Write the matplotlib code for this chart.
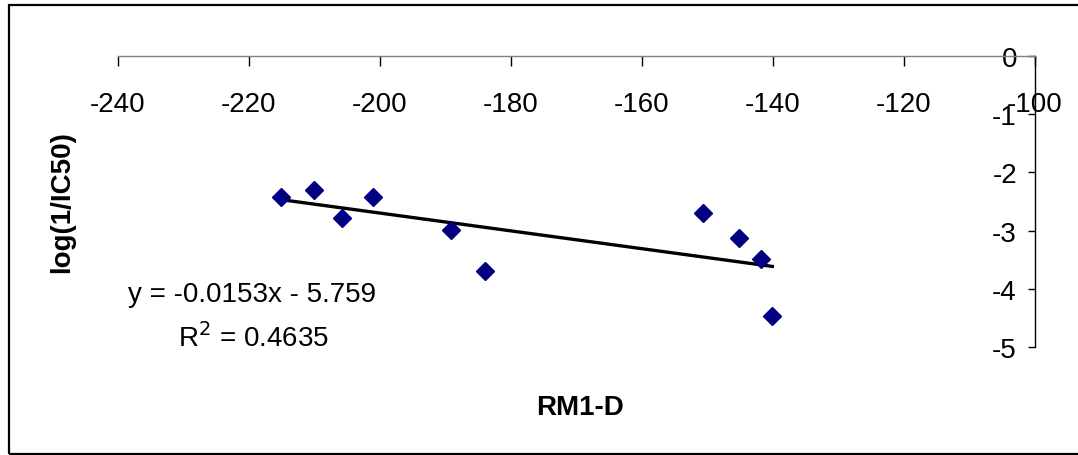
import numpy as np
import matplotlib
matplotlib.use("Agg")
import matplotlib.pyplot as plt
from matplotlib.patches import Rectangle

plt.rcParams['font.family'] = ['Liberation Sans', 'DejaVu Sans']
plt.rcParams['axes.unicode_minus'] = False

# data
rm1_d = [-215.1, -210.1, -205.8, -201.1, -189.1, -184.0, -150.7, -145.2, -141.8, -140.1]
log_ic50 = [-2.42, -2.30, -2.79, -2.42, -2.99, -3.69, -2.70, -3.12, -3.48, -4.47]
slope = -0.0153
intercept = -5.759
r_squared = 0.4635
x_ticks = [-240, -220, -200, -180, -160, -140, -120, -100]
y_ticks = [0, -1, -2, -3, -4, -5]

fig = plt.figure(figsize=(10.78, 4.56), dpi=100)

# chart area border
fig.patches.append(Rectangle((9 / 1078, 1 / 456), 1.2, 1 - 7 / 456,
                             transform=fig.transFigure, fill=False,
                             edgecolor='black', linewidth=1.6))

ax = fig.add_axes([118 / 1078, 1 - 348 / 456, (1035 - 118) / 1078, (348 - 57) / 456])
ax.set_xlim(-240, -100)
ax.set_ylim(-5, 0)

# axes cross at (-100, 0), as in the spreadsheet chart
ax.spines['left'].set_position(('data', -100))
ax.spines['bottom'].set_position(('data', 0))
ax.spines['top'].set_visible(False)
ax.spines['right'].set_visible(False)
ax.spines['bottom'].set_color('#808080')
for s in ('left', 'bottom'):
    ax.spines[s].set_linewidth(1.0)

ax.set_xticks(x_ticks)
ax.set_yticks(y_ticks)
ax.tick_params(axis='x', direction='out', length=7, width=1, pad=18, labelsize=20)
ax.tick_params(axis='y', direction='out', length=5, width=1, pad=8, labelsize=20)

# trendline across the data range
xs = np.array([min(rm1_d), max(rm1_d)])
ax.plot(xs, slope * xs + intercept, color='black', linewidth=2.4, zorder=2)
ax.plot(rm1_d, log_ic50, linestyle='none', marker='D', markersize=9,
        color='#000080', zorder=3)

fig.text(62 / 1078, 1 - 202 / 456, 'log(1/IC50)', rotation=90, fontsize=20,
         fontweight='bold', ha='center', va='center')
fig.text(580 / 1078, 1 - 408 / 456, 'RM1-D', fontsize=20, fontweight='bold',
         ha='center', va='center')

fig.text(252 / 1078, 1 - 295 / 456, f'y = {slope}x - {abs(intercept)}',
         fontsize=20, ha='center', va='center')
fig.text(253 / 1078, 1 - 338 / 456, f'R$^2$ = {r_squared}',
         fontsize=20, ha='center', va='center')

fig.savefig('out.png', dpi=100)
